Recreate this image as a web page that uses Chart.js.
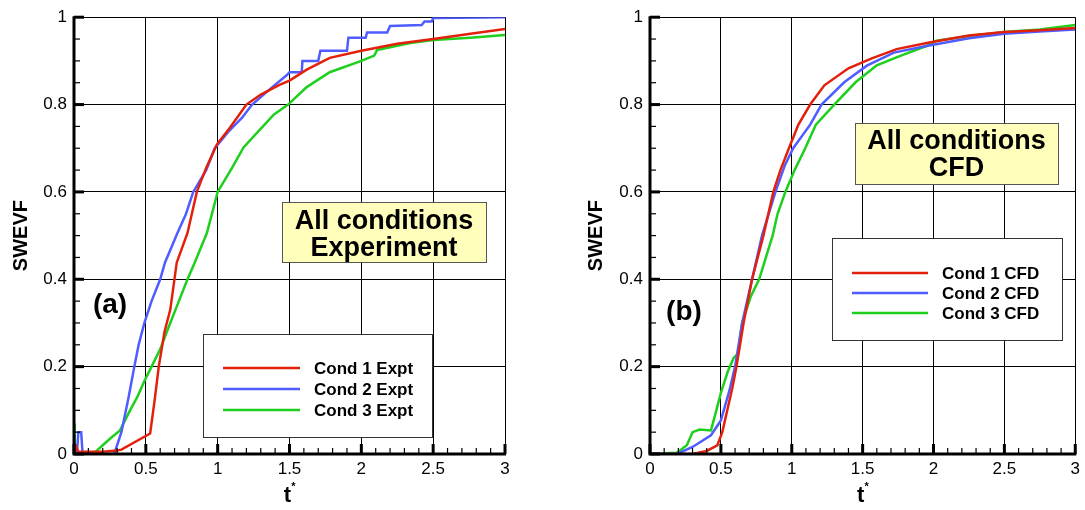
<!DOCTYPE html>
<html>
<head>
<meta charset="utf-8">
<script src="https://cdn.jsdelivr.net/npm/chart.js@4"></script>
<style>
  html, body { margin: 0; padding: 0; background: #fff; width: 1085px; height: 510px; overflow: hidden; }
  .panel { position: absolute; top: 0; height: 510px; }
  #pa { left: 0; width: 520px; }
  #pb { left: 575px; width: 510px; }
</style>
</head>
<body>
<div class="panel" id="pa"><canvas id="chartA"></canvas></div>
<div class="panel" id="pb"><canvas id="chartB"></canvas></div>
<script>
// tick values
const xTicks = [0, 0.5, 1, 1.5, 2, 2.5, 3];
const yTicks = [0, 0.2, 0.4, 0.6, 0.8, 1];

// (a) experiment
const tExpt1 = [0, 0.01, 0.03, 0.1, 0.2, 0.3, 0.33, 0.53, 0.56, 0.59, 0.63, 0.67, 0.715, 0.79, 0.855, 0.92, 0.995, 1.085, 1.2, 1.3, 1.43, 1.5, 1.62, 1.78, 2.0, 2.25, 2.5, 2.76, 3.0];
const swevfExpt1 = [0, 0.02, 0.005, 0.005, 0.005, 0.008, 0.01, 0.047, 0.12, 0.2, 0.28, 0.33, 0.438, 0.506, 0.6, 0.655, 0.709, 0.747, 0.8, 0.823, 0.845, 0.855, 0.88, 0.907, 0.923, 0.939, 0.95, 0.962, 0.973];

const tExpt2 = [0, 0.02, 0.03, 0.05, 0.06, 0.28, 0.3, 0.33, 0.355, 0.38, 0.42, 0.45, 0.49, 0.54, 0.6, 0.633, 0.72, 0.78, 0.83, 0.92, 0.98, 1.08, 1.17, 1.24, 1.38, 1.48, 1.5, 1.585, 1.59, 1.7, 1.715, 1.9, 1.91, 2.03, 2.04, 2.18, 2.2, 2.42, 2.44, 2.49, 2.5, 3.0];
const swevfExpt2 = [0, 0, 0.05, 0.05, 0, 0, 0.02, 0.05, 0.09, 0.13, 0.2, 0.25, 0.3, 0.35, 0.4, 0.438, 0.506, 0.55, 0.6, 0.65, 0.7, 0.74, 0.77, 0.8, 0.84, 0.867, 0.874, 0.874, 0.9, 0.9, 0.923, 0.923, 0.953, 0.953, 0.965, 0.965, 0.98, 0.982, 0.99, 0.99, 0.998, 1.0];

const tExpt3 = [0, 0.005, 0.02, 0.05, 0.15, 0.2, 0.25, 0.32, 0.39, 0.44, 0.49, 0.54, 0.6, 0.67, 0.73, 0.79, 0.84, 0.925, 1.0, 1.1, 1.18, 1.39, 1.49, 1.62, 1.78, 2.0, 2.09, 2.11, 2.34, 2.5, 2.76, 3.0];
const swevfExpt3 = [0.07, 0, 0, 0, 0.005, 0.02, 0.035, 0.054, 0.1, 0.13, 0.167, 0.2, 0.24, 0.3, 0.35, 0.4, 0.438, 0.506, 0.6, 0.655, 0.702, 0.777, 0.8, 0.84, 0.874, 0.9, 0.912, 0.925, 0.941, 0.948, 0.953, 0.959];

// (b) CFD
const tCfd1 = [0, 0.3, 0.4, 0.475, 0.51, 0.545, 0.58, 0.61, 0.66, 0.72, 0.8, 0.87, 0.92, 0.98, 1.047, 1.13, 1.23, 1.4, 1.56, 1.74, 1.97, 2.25, 2.5, 2.75, 3.0];
const swevfCfd1 = [0, 0, 0.007, 0.02, 0.05, 0.1, 0.15, 0.2, 0.3, 0.4, 0.5, 0.6, 0.65, 0.7, 0.754, 0.8, 0.844, 0.883, 0.905, 0.927, 0.942, 0.958, 0.966, 0.97, 0.975];

const tCfd2 = [0, 0.19, 0.3, 0.43, 0.5, 0.56, 0.6, 0.65, 0.72, 0.79, 0.885, 0.95, 1.01, 1.13, 1.21, 1.37, 1.53, 1.72, 1.95, 2.25, 2.5, 2.75, 3.0];
const swevfCfd2 = [0, 0, 0.016, 0.043, 0.077, 0.145, 0.2, 0.3, 0.4, 0.5, 0.6, 0.66, 0.7, 0.754, 0.8, 0.851, 0.889, 0.919, 0.934, 0.952, 0.962, 0.967, 0.972];

const tCfd3 = [0, 0.19, 0.26, 0.3, 0.35, 0.43, 0.46, 0.5, 0.55, 0.59, 0.62, 0.65, 0.71, 0.77, 0.865, 0.9, 0.955, 1.02, 1.095, 1.17, 1.3, 1.45, 1.6, 1.77, 1.95, 2.02, 2.25, 2.5, 2.75, 3.0];
const swevfCfd3 = [0, 0.003, 0.02, 0.05, 0.056, 0.054, 0.09, 0.14, 0.19, 0.22, 0.23, 0.3, 0.36, 0.4, 0.5, 0.55, 0.6, 0.65, 0.7, 0.754, 0.8, 0.851, 0.89, 0.912, 0.934, 0.946, 0.957, 0.966, 0.972, 0.982];

const RED = "#e3200b", BLUE = "#4f5cff", GREEN = "#1ecf1e";
const FONT = '"Liberation Sans", Arial, Helvetica, sans-serif';

function series(label, ts, ys, color) {
  return {
    label: label,
    data: ts.map((t, i) => ({ x: t, y: ys[i] })),
    borderColor: color,
    backgroundColor: color,
    borderWidth: 2.5,
    pointRadius: 0,
    tension: 0,
    fill: false,
  };
}

const decor = {
  id: "decor",
  afterDatasetsDraw(chart, args, o) {
    const { ctx, chartArea: a, scales } = chart;
    const x = scales.x, y = scales.y;
    ctx.save();
    ctx.strokeStyle = "#000";
    ctx.fillStyle = "#000";

    // minor / major ticks, pointing inward
    for (let i = 0; i <= 30; i++) {
      const px = x.getPixelForValue(i / 10);
      const major = i % 5 === 0;
      ctx.lineWidth = major ? 3 : 1.2;
      ctx.beginPath();
      ctx.moveTo(px, a.bottom);
      ctx.lineTo(px, a.bottom - (major ? 10 : 6));
      ctx.stroke();
    }
    for (let i = 0; i <= 20; i++) {
      const py = y.getPixelForValue(i / 20);
      const major = i % 4 === 0;
      ctx.lineWidth = major ? 3 : 1.2;
      ctx.beginPath();
      ctx.moveTo(a.left, py);
      ctx.lineTo(a.left + (major ? 10 : 6), py);
      ctx.stroke();
    }
    // heavy left / bottom axes
    ctx.lineWidth = 3;
    ctx.beginPath();
    ctx.moveTo(a.left, a.top - 1);
    ctx.lineTo(a.left, a.bottom);
    ctx.lineTo(a.right + 1, a.bottom);
    ctx.stroke();

    // note box
    const n = o.note;
    ctx.fillStyle = "#ffffbb";
    ctx.fillRect(n.x, n.y, n.w, n.h);
    ctx.strokeStyle = "#555";
    ctx.lineWidth = 1;
    ctx.strokeRect(n.x + 0.5, n.y + 0.5, n.w, n.h);
    ctx.fillStyle = "#000";
    ctx.font = "bold 27px " + FONT;
    ctx.textAlign = "center";
    ctx.textBaseline = "alphabetic";
    n.lines.forEach((s, i) => ctx.fillText(s, n.x + n.w / 2, n.base[i]));

    // legend
    const L = o.legend;
    ctx.fillStyle = "#fff";
    ctx.fillRect(L.x, L.y, L.w, L.h);
    ctx.strokeStyle = "#333";
    ctx.strokeRect(L.x + 0.5, L.y + 0.5, L.w, L.h);
    ctx.font = "bold 17px " + FONT;
    ctx.textAlign = "left";
    ctx.textBaseline = "middle";
    chart.data.datasets.forEach((ds, i) => {
      const ry = L.rows[i];
      ctx.strokeStyle = ds.borderColor;
      ctx.lineWidth = 2.5;
      ctx.beginPath();
      ctx.moveTo(L.lx0, ry);
      ctx.lineTo(L.lx1, ry);
      ctx.stroke();
      ctx.fillStyle = "#000";
      ctx.fillText(ds.label, L.tx, ry + 1);
    });

    // panel tag
    ctx.font = "bold 28px " + FONT;
    ctx.textAlign = "center";
    ctx.fillText(o.tag.text, o.tag.x, o.tag.y);

    // axis titles
    const cx = (a.left + a.right) / 2;
    ctx.font = "bold 22px " + FONT;
    ctx.textBaseline = "alphabetic";
    ctx.fillText("t", cx - 2, 502);
    ctx.font = "bold 11px " + FONT;
    ctx.fillText("*", cx + 4, 490);
    ctx.save();
    ctx.translate(21, (a.top + a.bottom) / 2);
    ctx.rotate(-Math.PI / 2);
    ctx.font = "bold 20px " + FONT;
    ctx.textBaseline = "middle";
    ctx.fillText("SWEVF", 0, 0);
    ctx.restore();
    ctx.restore();
  },
};

function makeChart(id, datasets, yWidth, padRight, panel) {
  return new Chart(document.getElementById(id), {
    type: "line",
    data: { datasets: datasets },
    options: {
      responsive: true,
      maintainAspectRatio: false,
      animation: false,
      layout: { padding: { top: 11, right: padRight, left: 0, bottom: 0 } },
      plugins: { legend: { display: false }, tooltip: { enabled: false }, decor: panel },
      scales: {
        x: {
          type: "linear",
          min: 0,
          max: 3,
          afterBuildTicks: (s) => { s.ticks = xTicks.map((v) => ({ value: v })); },
          afterFit: (s) => { s.height = 56; },
          ticks: { color: "#000", font: { family: FONT, size: 17 }, padding: 5, maxRotation: 0, callback: (v) => String(v) },
          grid: { color: "#000", lineWidth: 1, drawTicks: false },
          border: { display: false },
        },
        y: {
          min: 0,
          max: 1,
          afterBuildTicks: (s) => { s.ticks = yTicks.map((v) => ({ value: v })); },
          afterFit: (s) => { s.width = yWidth; },
          ticks: { color: "#000", font: { family: FONT, size: 17 }, padding: 7, callback: (v) => String(v) },
          grid: { color: "#000", lineWidth: 1, drawTicks: false },
          border: { display: false },
        },
      },
    },
    plugins: [decor],
  });
}

makeChart("chartA", [
  series("Cond 1 Expt", tExpt1, swevfExpt1, RED),
  series("Cond 2 Expt", tExpt2, swevfExpt2, BLUE),
  series("Cond 3 Expt", tExpt3, swevfExpt3, GREEN),
], 74, 15, {
  note: { x: 282, y: 202, w: 204, h: 60, lines: ["All conditions", "Experiment"], base: [229, 256] },
  legend: { x: 203, y: 334, w: 229, h: 103, lx0: 223, lx1: 300, tx: 314, rows: [368, 389, 410] },
  tag: { text: "(a)", x: 110, y: 305 },
});

makeChart("chartB", [
  series("Cond 1 CFD", tCfd1, swevfCfd1, RED),
  series("Cond 2 CFD", tCfd2, swevfCfd2, BLUE),
  series("Cond 3 CFD", tCfd3, swevfCfd3, GREEN),
], 75, 5, {
  note: { x: 280, y: 123, w: 203, h: 61, lines: ["All conditions", "CFD"], base: [149, 176] },
  legend: { x: 257, y: 238, w: 230, h: 102, lx0: 277, lx1: 353, tx: 367, rows: [273, 293, 313] },
  tag: { text: "(b)", x: 109, y: 312 },
});
</script>
</body>
</html>
